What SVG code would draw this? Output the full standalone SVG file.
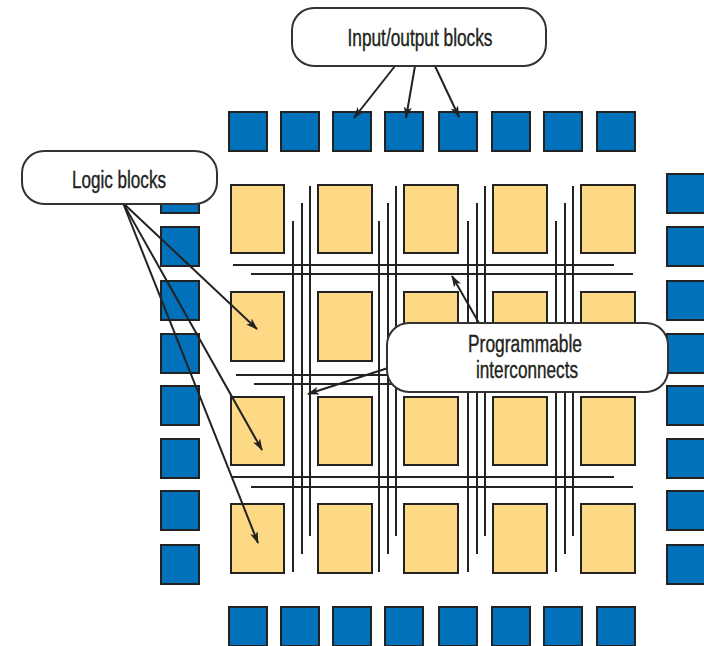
<svg xmlns="http://www.w3.org/2000/svg" width="704" height="646" viewBox="0 0 704 646">
<style>
.io{fill:#0071BA;stroke:#222;stroke-width:2}
.lb{fill:#FDD985;stroke:#222;stroke-width:2}
.w{stroke:#222;stroke-width:2;fill:none}
.ar{stroke:#222;stroke-width:2;fill:none;marker-end:url(#ah)}
.box{fill:#fff;stroke:#333;stroke-width:2}
.t{font-family:"Liberation Sans",Arial,sans-serif;font-size:23px;fill:#231F20;text-anchor:middle;stroke:#231F20;stroke-width:0.4}
</style>
<defs>
<marker id="ah" viewBox="0 0 12 8" refX="11" refY="4" markerWidth="12" markerHeight="8" markerUnits="userSpaceOnUse" orient="auto">
<path d="M0,0 L12,4 L0,8 L3,4 Z" fill="#222"/>
</marker>
</defs>
<rect width="704" height="646" fill="#fff"/>
<g id="io-top">
<rect class="io" x="229" y="112" width="38" height="39"/>
<rect class="io" x="281" y="112" width="38" height="39"/>
<rect class="io" x="333" y="112" width="38" height="39"/>
<rect class="io" x="385" y="112" width="38" height="39"/>
<rect class="io" x="439" y="112" width="38" height="39"/>
<rect class="io" x="492" y="112" width="38" height="39"/>
<rect class="io" x="544" y="112" width="38" height="39"/>
<rect class="io" x="597" y="112" width="38" height="39"/>
</g>
<g id="io-bottom">
<rect class="io" x="229" y="607" width="38" height="39"/>
<rect class="io" x="281" y="607" width="38" height="39"/>
<rect class="io" x="333" y="607" width="38" height="39"/>
<rect class="io" x="385" y="607" width="38" height="39"/>
<rect class="io" x="439" y="607" width="38" height="39"/>
<rect class="io" x="492" y="607" width="38" height="39"/>
<rect class="io" x="544" y="607" width="38" height="39"/>
<rect class="io" x="597" y="607" width="38" height="39"/>
</g>
<g id="io-left">
<rect class="io" x="161" y="174" width="38" height="39"/>
<rect class="io" x="161" y="227" width="38" height="39"/>
<rect class="io" x="161" y="281" width="38" height="39"/>
<rect class="io" x="161" y="334" width="38" height="39"/>
<rect class="io" x="161" y="386" width="38" height="39"/>
<rect class="io" x="161" y="439" width="38" height="39"/>
<rect class="io" x="161" y="491" width="38" height="39"/>
<rect class="io" x="161" y="545" width="38" height="39"/>
</g>
<g id="io-right">
<rect class="io" x="667" y="174" width="40" height="39"/>
<rect class="io" x="667" y="227" width="40" height="39"/>
<rect class="io" x="667" y="281" width="40" height="39"/>
<rect class="io" x="667" y="334" width="40" height="39"/>
<rect class="io" x="667" y="386" width="40" height="39"/>
<rect class="io" x="667" y="439" width="40" height="39"/>
<rect class="io" x="667" y="491" width="40" height="39"/>
<rect class="io" x="667" y="545" width="40" height="39"/>
</g>
<g id="logic-blocks">
<rect class="lb" x="231" y="185" width="53" height="68"/>
<rect class="lb" x="318" y="185" width="54" height="68"/>
<rect class="lb" x="404" y="185" width="54" height="68"/>
<rect class="lb" x="493" y="185" width="54" height="68"/>
<rect class="lb" x="581" y="185" width="54" height="68"/>
<rect class="lb" x="231" y="292" width="53" height="69"/>
<rect class="lb" x="318" y="292" width="54" height="69"/>
<rect class="lb" x="404" y="292" width="54" height="69"/>
<rect class="lb" x="493" y="292" width="54" height="69"/>
<rect class="lb" x="581" y="292" width="54" height="69"/>
<rect class="lb" x="231" y="397" width="53" height="68"/>
<rect class="lb" x="318" y="397" width="54" height="68"/>
<rect class="lb" x="404" y="397" width="54" height="68"/>
<rect class="lb" x="493" y="397" width="54" height="68"/>
<rect class="lb" x="581" y="397" width="54" height="68"/>
<rect class="lb" x="231" y="504" width="53" height="69"/>
<rect class="lb" x="318" y="504" width="54" height="69"/>
<rect class="lb" x="404" y="504" width="54" height="69"/>
<rect class="lb" x="493" y="504" width="54" height="69"/>
<rect class="lb" x="581" y="504" width="54" height="69"/>
</g>
<g id="interconnect-wires">
<path class="w" d="M293,221V572 M302,203V554 M310,186V536"/>
<path class="w" d="M379,221V572 M388,203V554 M396,186V536"/>
<path class="w" d="M468,221V572 M477,203V554 M485,186V536"/>
<path class="w" d="M556,221V572 M565,203V554 M573,186V536"/>
<path class="w" d="M233,265H614 M251,274H633"/>
<path class="w" d="M236,375H614 M254,384H633"/>
<path class="w" d="M232,477H614 M251,487H633"/>
</g>
<g id="connectors">
<path class="ar" d="M395,66L354,118"/>
<path class="ar" d="M415,66L406,118"/>
<path class="ar" d="M435,66L459,117"/>
<path class="ar" d="M123,203L257,329"/>
<path class="ar" d="M123,203L262,450"/>
<path class="ar" d="M123,203L258,543"/>
<path class="ar" d="M479,323L452,276"/>
<path class="ar" d="M388,368L308,394"/>
</g>
<g id="label-io">
<rect class="box" x="292" y="8" width="254" height="58" rx="22"/>
<text class="t" x="420" y="46" textLength="145" lengthAdjust="spacingAndGlyphs">Input/output blocks</text>
</g>
<g id="label-logic">
<rect class="box" x="22" y="151" width="195" height="53" rx="22"/>
<text class="t" x="119" y="188" textLength="94" lengthAdjust="spacingAndGlyphs">Logic blocks</text>
</g>
<g id="label-pi">
<rect class="box" x="387" y="323" width="281" height="69" rx="22"/>
<text class="t" x="525" y="352" textLength="114" lengthAdjust="spacingAndGlyphs">Programmable</text>
<text class="t" x="527" y="378" textLength="102" lengthAdjust="spacingAndGlyphs">interconnects</text>
</g>
</svg>
